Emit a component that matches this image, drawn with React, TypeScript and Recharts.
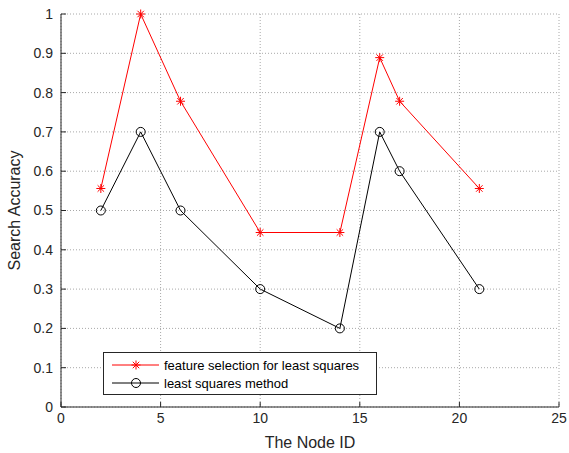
import React from 'react';
import {
  LineChart,
  Line,
  XAxis,
  YAxis,
  CartesianGrid,
  Label,
} from 'recharts';

const nodeIds = [2, 4, 6, 10, 14, 16, 17, 21];
const featureSelection = [0.556, 1.0, 0.778, 0.444, 0.444, 0.889, 0.778, 0.556];
const leastSquares = [0.5, 0.7, 0.5, 0.3, 0.2, 0.7, 0.6, 0.3];
const xTicks = [0, 5, 10, 15, 20, 25];
const yTicks = [0, 0.1, 0.2, 0.3, 0.4, 0.5, 0.6, 0.7, 0.8, 0.9, 1];

const data = nodeIds.map((id, i) => ({
  id,
  fs: featureSelection[i],
  ls: leastSquares[i],
}));

const FONT = '"Liberation Sans", Arial, sans-serif';
const TEXT = '#262626';

const Star = (props: any) => {
  const { cx, cy, stroke } = props;
  if (cx == null || cy == null) return null;
  const r = 4.5;
  const d = r * 0.72;
  return (
    <g stroke={stroke} strokeWidth={1}>
      <line x1={cx - r} y1={cy} x2={cx + r} y2={cy} />
      <line x1={cx} y1={cy - r} x2={cx} y2={cy + r} />
      <line x1={cx - d} y1={cy - d} x2={cx + d} y2={cy + d} />
      <line x1={cx - d} y1={cy + d} x2={cx + d} y2={cy - d} />
    </g>
  );
};

const Ring = (props: any) => {
  const { cx, cy, stroke } = props;
  if (cx == null || cy == null) return null;
  return <circle cx={cx} cy={cy} r={4.5} fill="none" stroke={stroke} strokeWidth={1} />;
};

// drawn outside the chart so it does not eat into the plot area
const LegendBox = () => (
  <svg
    width={274}
    height={43}
    style={{ position: 'absolute', left: 103, top: 352, display: 'block' }}
  >
    <rect x={0.5} y={0.5} width={273} height={42} fill="#fff" stroke="#262626" strokeWidth={1} />
    <line x1={9} y1={13} x2={56} y2={13} stroke="#ff0000" />
    <Star cx={33} cy={13} stroke="#ff0000" />
    <text x={61} y={17.5} fontSize={13} fontFamily={FONT} fill="#000">
      feature selection for least squares
    </text>
    <line x1={9} y1={31} x2={56} y2={31} stroke="#000" />
    <Ring cx={33} cy={31} stroke="#000" />
    <text x={61} y={35.5} fontSize={13} fontFamily={FONT} fill="#000">
      least squares method
    </text>
  </svg>
);

export default function App() {
  return (
    <div style={{ position: 'absolute', left: 0, top: 0, width: 569, height: 453, background: '#fff' }}>
      <LineChart
        width={569}
        height={453}
        data={data}
        margin={{ top: 14, right: 10, bottom: 0, left: 0 }}
      >
        <CartesianGrid
          stroke="#a8a8a8"
          strokeDasharray="1 2"
          horizontalValues={yTicks}
          verticalValues={xTicks}
        />
        <XAxis
          dataKey="id"
          type="number"
          domain={[0, 25]}
          ticks={xTicks}
          height={46}
          tickSize={-5}
          tickMargin={11}
          stroke="#262626"
          tick={{ fill: TEXT, fontSize: 14, fontFamily: FONT }}
        >
          <Label
            value="The Node ID"
            position="insideBottom"
            offset={5}
            style={{ fill: TEXT, fontSize: 16, fontFamily: FONT }}
          />
        </XAxis>
        <YAxis
          type="number"
          domain={[0, 1]}
          ticks={yTicks}
          width={61}
          tickSize={-5}
          tickMargin={13}
          stroke="#262626"
          tick={{ fill: TEXT, fontSize: 14, fontFamily: FONT }}
        >
          <Label
            value="Search Accuracy"
            angle={-90}
            position="insideLeft"
            offset={14}
            style={{ fill: TEXT, fontSize: 16, fontFamily: FONT, textAnchor: 'middle' }}
          />
        </YAxis>
        <Line
          dataKey="fs"
          stroke="#ff0000"
          strokeWidth={1}
          dot={<Star />}
          activeDot={false}
          isAnimationActive={false}
        />
        <Line
          dataKey="ls"
          stroke="#000000"
          strokeWidth={1}
          dot={<Ring />}
          activeDot={false}
          isAnimationActive={false}
        />
      </LineChart>
      <LegendBox />
    </div>
  );
}
